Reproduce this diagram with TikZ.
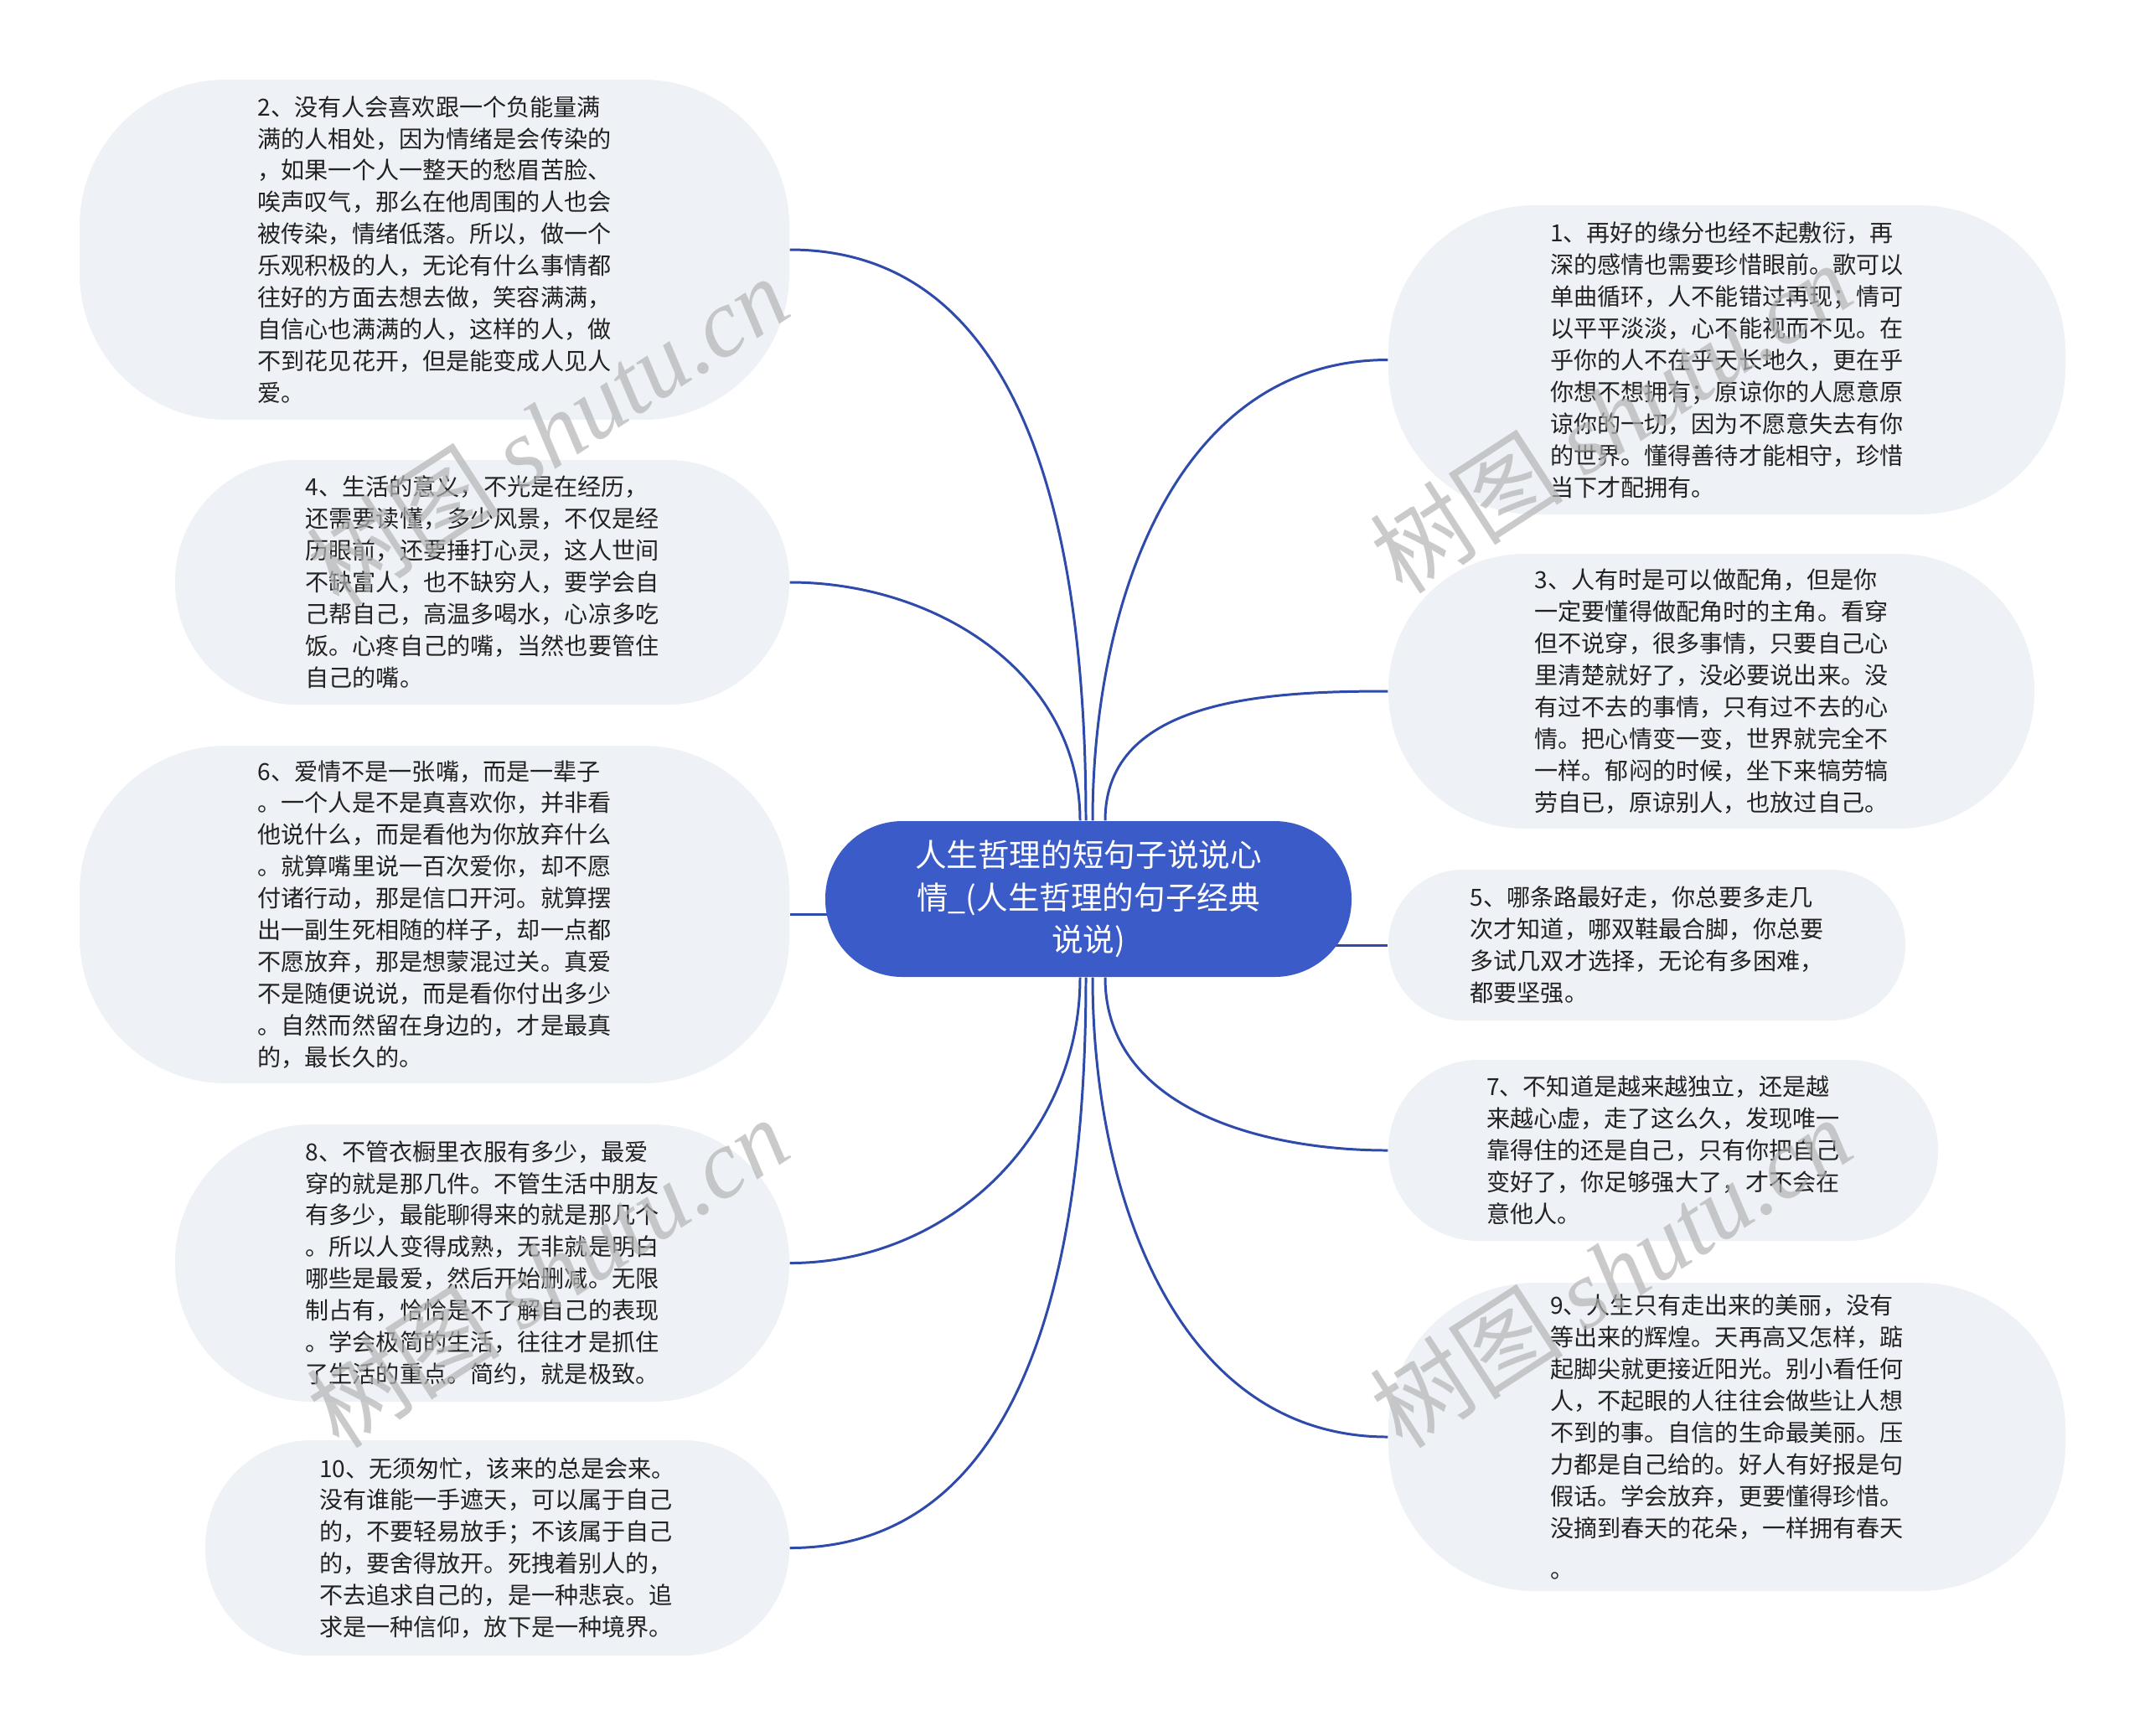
\documentclass[tikz,border=0pt]{standalone}
\usepackage{fontspec}
\setmainfont{Noto Sans CJK SC}
\newfontfamily\wmserif{Liberation Serif}
\usetikzlibrary{backgrounds}

\definecolor{leafgray}{HTML}{EEF1F5}
\definecolor{hubblue}{HTML}{3B5BC8}
\definecolor{linkblue}{HTML}{2E4AAA}
\definecolor{inkgray}{HTML}{222222}
\definecolor{wmgray}{HTML}{B4B4B4}

\tikzset{
    leaf/.style={fill=leafgray, rounded corners=#1, align=left, text=inkgray,
        inner sep=0pt, font=\fontsize{8pt}{10.8pt}\selectfont},
    hub/.style={fill=hubblue, rounded corners=0.92cm, align=center, text=white,
        inner sep=0pt, minimum width=6.28cm, minimum height=1.86cm,
        font=\fontsize{10.7pt}{14.4pt}\selectfont},
    link/.style={draw=linkblue, line width=0.85pt},
    wmark/.style={text=wmgray, opacity=0.7, rotate=33, inner sep=0pt,
        font=\fontsize{33pt}{33pt}\selectfont}
}

\begin{document}
\begin{tikzpicture}
    \useasboundingbox (0,0) rectangle (25.6,-20.71);

    \node[hub] (hub) at (12.99,-10.73) {人生哲理的短句子说说心\\情\_(人生哲理的句子经典\\说说)};

    % left side
    \node[leaf=1.75cm, minimum width=8.47cm, minimum height=4.06cm] (n2) at (5.185,-2.98)
        {2、没有人会喜欢跟一个负能量满\\满的人相处，因为情绪是会传染的\\，如果一个人一整天的愁眉苦脸、\\唉声叹气，那么在他周围的人也会\\被传染，情绪低落。所以，做一个\\乐观积极的人，无论有什么事情都\\往好的方面去想去做，笑容满满，\\自信心也满满的人，这样的人，做\\不到花见花开，但是能变成人见人\\爱。};
    \node[leaf=1.45cm, minimum width=7.33cm, minimum height=2.92cm] (n4) at (5.755,-6.95)
        {4、生活的意义，不光是在经历，\\还需要读懂，多少风景，不仅是经\\历眼前，还要捶打心灵，这人世间\\不缺富人，也不缺穷人，要学会自\\己帮自己，高温多喝水，心凉多吃\\饭。心疼自己的嘴，当然也要管住\\自己的嘴。};
    \node[leaf=1.75cm, minimum width=8.47cm, minimum height=4.03cm] (n6) at (5.185,-10.915)
        {6、爱情不是一张嘴，而是一辈子\\。一个人是不是真喜欢你，并非看\\他说什么，而是看他为你放弃什么\\。就算嘴里说一百次爱你，却不愿\\付诸行动，那是信口开河。就算摆\\出一副生死相随的样子，却一点都\\不愿放弃，那是想蒙混过关。真爱\\不是随便说说，而是看你付出多少\\。自然而然留在身边的，才是最真\\的，最长久的。};
    \node[leaf=1.64cm, minimum width=7.33cm, minimum height=3.31cm] (n8) at (5.755,-15.075)
        {8、不管衣橱里衣服有多少，最爱\\穿的就是那几件。不管生活中朋友\\有多少，最能聊得来的就是那几个\\。所以人变得成熟，无非就是明白\\哪些是最爱，然后开始删减。无限\\制占有，恰恰是不了解自己的表现\\。学会极简的生活，往往才是抓住\\了生活的重点。简约，就是极致。};
    \node[leaf=1.27cm, minimum width=6.97cm, minimum height=2.57cm] (n10) at (5.935,-18.475)
        {10、无须匆忙，该来的总是会来。\\没有谁能一手遮天，可以属于自己\\的，不要轻易放手；不该属于自己\\的，要舍得放开。死拽着别人的，\\不去追求自己的，是一种悲哀。追\\求是一种信仰，放下是一种境界。};

    % right side
    \node[leaf=1.75cm, minimum width=8.08cm, minimum height=3.69cm] (n1) at (20.61,-4.295)
        {1、再好的缘分也经不起敷衍，再\\深的感情也需要珍惜眼前。歌可以\\单曲循环，人不能错过再现；情可\\以平平淡淡，心不能视而不见。在\\乎你的人不在乎天长地久，更在乎\\你想不想拥有；原谅你的人愿意原\\谅你的一切，因为不愿意失去有你\\的世界。懂得善待才能相守，珍惜\\当下才配拥有。};
    \node[leaf=1.63cm, minimum width=7.71cm, minimum height=3.28cm] (n3) at (20.425,-8.25)
        {3、人有时是可以做配角，但是你\\一定要懂得做配角时的主角。看穿\\但不说穿，很多事情，只要自己心\\里清楚就好了，没必要说出来。没\\有过不去的事情，只有过不去的心\\情。把心情变一变，世界就完全不\\一样。郁闷的时候，坐下来犒劳犒\\劳自已，原谅别人，也放过自己。};
    \node[leaf=0.89cm, minimum width=6.17cm, minimum height=1.80cm] (n5) at (19.655,-11.28)
        {5、哪条路最好走，你总要多走几\\次才知道，哪双鞋最合脚，你总要\\多试几双才选择，无论有多困难，\\都要坚强。};
    \node[leaf=1.07cm, minimum width=6.56cm, minimum height=2.16cm] (n7) at (19.85,-13.73)
        {7、不知道是越来越独立，还是越\\来越心虚，走了这么久，发现唯一\\靠得住的还是自己，只有你把自己\\变好了，你足够强大了，才不会在\\意他人。};
    \node[leaf=1.75cm, minimum width=8.08cm, minimum height=3.68cm] (n9) at (20.61,-17.15)
        {9、人生只有走出来的美丽，没有\\等出来的辉煌。天再高又怎样，踮\\起脚尖就更接近阳光。别小看任何\\人，不起眼的人往往会做些让人想\\不到的事。自信的生命最美丽。压\\力都是自己给的。好人有好报是句\\假话。学会放弃，更要懂得珍惜。\\没摘到春天的花朵，一样拥有春天\\[3pt]。};

    \begin{pgfonlayer}{background}
        \fill[white] (0,0) rectangle (25.6,-20.71);
        \draw[link] ([xshift=-0.03cm]hub.north) to[out=90, in=0] (n2.east);
        \draw[link] ([xshift=-0.1cm]hub.north) to[out=90, in=0] (n4.east);
        \draw[link] (hub.center |- n6.east) -- (n6.east);
        \draw[link] ([xshift=-0.1cm]hub.south) to[out=-90, in=0] (n8.east);
        \draw[link] ([xshift=-0.03cm]hub.south) to[out=-90, in=0] (n10.east);
        \draw[link] ([xshift=0.05cm]hub.north) to[out=90, in=180] (n1.west);
        \draw[link] ([xshift=0.2cm]hub.north) to[out=90, in=180] (n3.west);
        \draw[link] (hub.center |- n5.west) -- (n5.west);
        \draw[link] ([xshift=0.2cm]hub.south) to[out=-90, in=180] (n7.west);
        \draw[link] ([xshift=0.05cm]hub.south) to[out=-90, in=180] (n9.west);
    \end{pgfonlayer}

    % watermarks
    \node[wmark] (wm1) at (6.53,-5.14) {树图 {\wmserif\itshape shutu.cn}};
    \node[wmark] (wm2) at (19.22,-4.98) {树图 {\wmserif\itshape shutu.cn}};
    \node[wmark] (wm3) at (6.53,-15.18) {树图 {\wmserif\itshape shutu.cn}};
    \node[wmark] (wm4) at (19.22,-15.18) {树图 {\wmserif\itshape shutu.cn}};
\end{tikzpicture}
\end{document}
